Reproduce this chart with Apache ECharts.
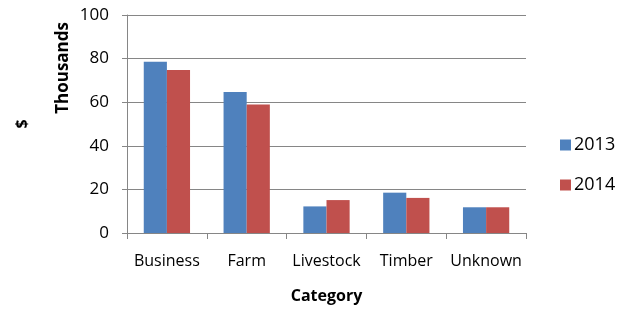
<!DOCTYPE html>
<html><head><meta charset="utf-8">
<script src="https://cdn.jsdelivr.net/npm/echarts@6/dist/echarts.min.js"></script>
<style>html,body{margin:0;padding:0;background:#fff}#c{width:623px;height:310px}</style>
</head><body><div id="c"></div>
<script>
const categories = ['Business', 'Farm', 'Livestock', 'Timber', 'Unknown'];
const seriesNames = ['2013', '2014'];
const values2013 = [78.6, 64.7, 12.2, 18.5, 11.8];
const values2014 = [74.8, 58.9, 15.1, 16.1, 11.8];
const yTicks = [0, 20, 40, 60, 80, 100];

const FONT = 'Open Sans';
const chart = echarts.init(document.getElementById('c'), null, {renderer: 'canvas'});
chart.setOption({
  animation: false,
  textStyle: {fontFamily: FONT},
  grid: {left: 127, right: 97, top: 15, bottom: 77, containLabel: false, outerBoundsMode: 'none'},
  legend: {
    orient: 'vertical', left: 555, top: 131, itemWidth: 11, itemHeight: 11, itemGap: 22,
    icon: 'rect',
    textStyle: {fontFamily: FONT, fontSize: 18, color: '#000', padding: [0, 0, 0, -2]},
    data: seriesNames
  },
  xAxis: {
    type: 'category', data: categories,
    name: 'Category', nameLocation: 'middle', nameGap: 55,
    nameTextStyle: {fontFamily: FONT, fontSize: 16, fontWeight: 'bold', color: '#000'},
    axisLine: {lineStyle: {color: '#868686', width: 1}},
    axisTick: {show: true, length: 6, lineStyle: {color: '#868686'}},
    axisLabel: {fontFamily: FONT, fontSize: 16, color: '#000', margin: 20, interval: 0, hideOverlap: false}
  },
  yAxis: {
    type: 'value', min: yTicks[0], max: yTicks[yTicks.length - 1], interval: 20,
    name: '$', nameLocation: 'middle', nameRotate: 90, nameGap: 97,
    nameTextStyle: {fontFamily: FONT, fontSize: 16, fontWeight: 'bold', color: '#000'},
    axisLine: {show: true, lineStyle: {color: '#868686', width: 1}},
    axisTick: {show: true, length: 5, lineStyle: {color: '#868686'}},
    axisLabel: {fontFamily: FONT, fontSize: 17, color: '#000', margin: 18},
    splitLine: {lineStyle: {color: '#868686', width: 1}}
  },
  graphic: [{
    type: 'text', left: 55, top: 22, rotation: Math.PI / 2,
    style: {text: 'Thousands', fontFamily: FONT, fontSize: 17, fontWeight: 'bold', fill: '#000'}
  }],
  series: [
    {name: seriesNames[0], type: 'bar', data: values2013, barGap: '0%', barCategoryGap: '42%',
     itemStyle: {color: '#4F81BD'}},
    {name: seriesNames[1], type: 'bar', data: values2014, barGap: '0%', barCategoryGap: '42%',
     itemStyle: {color: '#C0504D'}}
  ]
});
</script></body></html>
